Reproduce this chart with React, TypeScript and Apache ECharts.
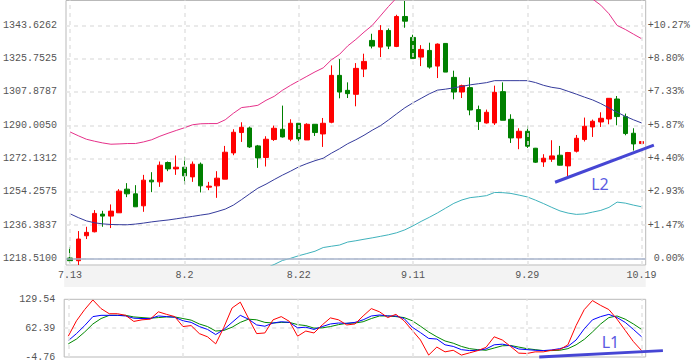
import React, { useEffect, useRef } from 'react';
import * as echarts from 'echarts';

const dates = ['7.13','7.14','7.17','7.18','7.19','7.20','7.21','7.24','7.25','7.26','7.27','7.28','7.31','8.1','8.2','8.3','8.4','8.7','8.8','8.9','8.10','8.11','8.14','8.15','8.16','8.17','8.18','8.21','8.22','8.23','8.24','8.25','8.28','8.29','8.30','8.31','9.1','9.4','9.5','9.6','9.7','9.8','9.11','9.12','9.13','9.14','9.15','9.18','9.19','9.20','9.21','9.22','9.25','9.26','9.27','9.28','9.29','10.2','10.3','10.4','10.5','10.6','10.9','10.10','10.11','10.12','10.13','10.16','10.17','10.18','10.19'];

const openP = [1218.69,1217.24,1230.65,1232.79,1242.28,1241.21,1242.98,1255.69,1253.17,1246.73,1260.51,1259.60,1270.00,1266.57,1267.48,1262.28,1269.09,1256.76,1257.46,1261.05,1275.15,1286.09,1288.56,1278.91,1272.69,1282.34,1287.86,1282.50,1291.08,1282.12,1290.54,1285.34,1291.61,1316.81,1308.77,1306.63,1320.19,1335.58,1331.99,1340.94,1332.36,1348.45,1337.19,1326.63,1330.22,1321.80,1333.97,1315.74,1307.86,1310.22,1298.42,1291.24,1291.24,1308.07,1293.22,1283.20,1286.79,1277.67,1270.33,1271.77,1273.92,1268.18,1276.06,1282.34,1289.09,1291.77,1293.38,1304.11,1294.67,1285.72,1280.19];
const closeP = [1217.24,1228.88,1232.47,1242.66,1241.21,1243.89,1254.62,1253.17,1246.20,1260.51,1259.60,1268.56,1266.57,1267.48,1262.82,1269.09,1257.46,1257.30,1261.59,1275.53,1286.25,1288.93,1278.37,1272.47,1282.50,1288.40,1283.73,1291.08,1282.66,1290.54,1286.09,1291.08,1316.81,1307.86,1307.00,1320.57,1324.32,1332.53,1340.94,1332.53,1348.45,1345.93,1325.93,1330.76,1321.27,1333.60,1318.58,1307.86,1311.29,1298.21,1291.99,1296.98,1307.70,1292.69,1283.20,1286.79,1278.75,1270.17,1272.31,1273.54,1268.56,1275.37,1283.03,1289.47,1292.15,1293.76,1304.48,1294.67,1285.55,1279.98,1281.27];
const lowP = [1216.17,1214.94,1228.88,1232.47,1235.47,1234.78,1242.98,1251.40,1246.20,1243.52,1254.08,1256.92,1265.34,1263.36,1258.21,1259.60,1253.92,1255.15,1251.02,1261.05,1273.92,1281.05,1277.83,1267.11,1267.86,1281.59,1283.41,1281.43,1281.27,1282.12,1284.27,1278.37,1291.08,1304.48,1304.64,1300.19,1315.90,1331.29,1326.63,1330.92,1331.99,1342.39,1325.77,1321.80,1320.41,1315.37,1318.58,1303.95,1304.64,1295.37,1287.48,1290.92,1290.17,1292.69,1280.51,1277.14,1277.83,1269.79,1267.65,1270.33,1268.40,1262.28,1275.37,1281.27,1283.73,1289.09,1290.54,1290.00,1284.64,1276.44,1280.19];
const highP = [1224.59,1233.17,1235.47,1244.43,1244.05,1247.48,1255.69,1258.91,1257.83,1263.36,1264.80,1270.54,1270.54,1273.76,1273.01,1270.54,1270.00,1259.60,1265.34,1278.91,1287.86,1291.61,1289.31,1279.44,1284.11,1289.84,1300.57,1293.22,1291.24,1291.08,1290.54,1293.92,1322.18,1325.55,1313.06,1323.41,1328.45,1339.17,1343.79,1342.02,1349.36,1356.76,1338.64,1333.06,1334.35,1333.97,1333.97,1319.33,1311.83,1315.74,1300.57,1298.42,1311.29,1313.06,1295.90,1288.40,1289.84,1277.83,1274.46,1281.96,1278.91,1275.69,1284.80,1294.13,1293.06,1296.98,1304.64,1305.72,1296.28,1288.40,1281.27];

const bollUpper = [1286.41,1284.38,1282.50,1281.43,1280.51,1279.82,1279.98,1280.19,1280.19,1281.05,1282.23,1284.11,1285.72,1287.22,1288.66,1290.27,1290.81,1290.92,1290.92,1292.95,1296.44,1299.50,1300.03,1300.73,1303.41,1305.55,1308.77,1311.45,1313.87,1316.28,1318.69,1320.84,1325.13,1328.08,1332.63,1336.12,1340.03,1343.62,1348.72,1353.81,1358.5,1362.0,1365.0,1367.0,1369.0,1370.0,1371.0,1371.0,1371.0,1370.0,1369.0,1368.0,1367.0,1366.0,1365.0,1364.0,1363.0,1362.0,1361.5,1361.0,1360.5,1360.0,1359.3,1358.6,1357.8,1354.51,1349.90,1343.62,1341.48,1338.96,1336.49];
const bollMid = [1242.44,1240.41,1238.64,1237.62,1237.03,1236.71,1236.60,1236.55,1236.92,1237.46,1238.10,1238.64,1239.12,1239.76,1240.41,1241.05,1241.75,1242.39,1243.62,1244.96,1247.11,1250.06,1253.17,1256.22,1258.37,1260.84,1263.19,1265.34,1267.65,1269.42,1270.97,1272.31,1274.99,1277.40,1280.09,1282.23,1284.64,1287.32,1289.74,1292.85,1296.17,1299.39,1302.07,1304.48,1306.90,1308.88,1309.42,1310.11,1310.92,1311.72,1312.31,1312.90,1313.97,1313.97,1313.97,1313.97,1313.97,1312.95,1311.45,1310.38,1309.74,1308.24,1306.73,1305.13,1303.62,1301.64,1299.33,1296.98,1294.83,1292.95,1291.24];
const bollLower = [1198.5,1196.4,1194.8,1193.8,1193.6,1193.6,1193.2,1192.9,1193.6,1193.9,1194.0,1193.2,1192.5,1192.3,1192.2,1191.8,1192.7,1193.9,1196.3,1197.0,1197.8,1200.6,1206.3,1211.7,1213.3,1215.21,1217.35,1218.53,1219.92,1221.10,1222.34,1224.32,1225.02,1225.66,1227.27,1227.97,1228.77,1229.52,1230.33,1231.18,1232.26,1233.81,1235.96,1238.37,1240.57,1242.93,1245.50,1248.07,1249.90,1251.13,1251.61,1252.20,1253.92,1253.81,1253.38,1252.47,1251.51,1249.79,1247.91,1245.88,1244.00,1242.82,1242.12,1242.39,1243.36,1244.27,1245.88,1248.72,1248.18,1247.11,1246.20];

const kdjK = [33.29,49.70,68.36,89.25,92.23,92.23,92.23,90.74,85.52,84.77,84.77,90.74,89.25,87.75,79.55,75.82,66.12,59.40,47.47,59.40,75.82,92.23,83.28,69.85,66.86,74.32,77.31,75.82,63.13,64.63,59.40,66.12,72.09,74.32,73.58,75.82,81.79,90.74,92.98,90.74,90.74,84.77,64.63,51.94,38.51,37.02,23.59,19.86,12.40,10.16,10.91,13.89,23.59,25.08,21.35,13.89,12.40,10.91,10.16,11.65,14.64,19.86,34.78,60.89,81.79,89.25,94.47,87.01,75.82,59.40,42.24];
const kdjD = [25.83,37.02,53.43,72.09,84.77,92.23,92.23,92.23,88.50,87.01,85.52,87.01,88.50,88.50,84.77,81.04,72.09,66.12,55.67,57.16,64.63,75.82,83.28,81.79,75.82,74.32,75.82,75.82,70.59,68.36,62.39,63.13,66.12,70.59,73.58,74.32,77.31,84.77,90.74,90.74,89.25,87.01,79.55,66.86,53.43,42.24,32.54,27.32,19.86,14.64,12.40,10.91,16.13,21.35,22.10,18.37,14.64,12.40,10.16,10.16,10.91,14.64,23.59,36.27,53.43,72.09,87.01,90.74,83.28,72.09,59.40];
const kdjJ = [43.73,79.55,105.66,128.04,107.90,95.96,95.96,92.23,78.06,81.79,83.28,100.44,94.47,89.25,66.12,68.36,49.70,42.24,25.83,64.63,109.39,122.82,85.52,49.70,51.20,81.79,89.25,78.06,43.73,55.67,51.20,69.85,86.26,81.79,69.85,72.09,90.74,107.90,100.44,87.01,94.47,79.55,57.16,34.78,-0.29,18.37,7.18,10.91,-0.29,4.94,10.16,17.62,42.24,34.78,19.86,4.19,3.45,7.18,7.18,10.91,12.40,23.59,68.36,105.66,126.55,115.36,105.66,83.28,57.16,31.05,10.16];

const priceTicks = [1218.51, 1236.3837, 1254.2575, 1272.1312, 1290.005, 1307.8787, 1325.7525, 1343.6262];
const priceTickLabels = ['1218.5100', '1236.3837', '1254.2575', '1272.1312', '1290.0050', '1307.8787', '1325.7525', '1343.6262'];
const pctTickLabels = [' 0.00%', '+1.47%', '+2.93%', '+4.40%', '+5.87%', '+7.33%', '+8.80%', '+10.27%'];
const priceRange = [1214.94, 1357.03];
const kdjTicks = [-4.76, 62.39, 129.54];
const kdjTickLabels = ['-4.76', '62.39', '129.54'];
const markedDates = ['7.13', '8.2', '8.22', '9.11', '9.29', '10.19'];

// trend-line annotations: [categoryIndex, value]
const lineL2 = [[59.4, 1259.4], [71.5, 1279.3]];
const textL2 = [64.9, 1258.4];
const lineL1 = [[57.5, -4.76], [72.6, 10.08]];
const textL1 = [66.2, 30.7];

const FONT = 'Liberation Mono';
const LABEL_COLOR = '#555555';
const DASH = { color: '#e3e3e3', type: [4, 4] as any, width: 1.5 };

function nearestIdx(arr: number[], v: number) {
  let best = 0;
  for (let i = 1; i < arr.length; i++) if (Math.abs(arr[i] - v) < Math.abs(arr[best] - v)) best = i;
  return best;
}

export default function App() {
  const ref = useRef<HTMLDivElement>(null);
  useEffect(() => {
    if (!ref.current) return;
    const chart = echarts.init(ref.current, null, { renderer: 'svg' });
    const gridLeft = 64.2;
    const gridWidth = 581.5;
    const vLines = markedDates.map((d) => ({ xAxis: d, lineStyle: { ...DASH } }));
    const option: any = {
      animation: false,
      grid: [
        { left: gridLeft, width: gridWidth, top: 0.5, height: 264.5, show: true, borderColor: '#b9b9b9', borderWidth: 1 },
        { left: gridLeft, width: gridWidth, top: 299.3, height: 60, show: true, borderColor: '#b9b9b9', borderWidth: 1 },
      ],
      xAxis: [
        {
          type: 'category', gridIndex: 0, data: dates, boundaryGap: true,
          axisLine: { show: false }, axisTick: { show: false }, splitLine: { show: false },
          axisLabel: { interval: 13, fontFamily: FONT, fontSize: 10, color: LABEL_COLOR, margin: 5 },
        },
        {
          type: 'category', gridIndex: 1, data: dates, boundaryGap: true,
          axisLine: { show: false }, axisTick: { show: false }, splitLine: { show: false },
          axisLabel: { show: false },
        },
      ],
      yAxis: [
        {
          type: 'value', gridIndex: 0, position: 'left', min: priceRange[0], max: priceRange[1],
          axisLine: { show: false }, axisTick: { show: false, customValues: priceTicks },
          splitLine: { show: true, lineStyle: DASH },
          axisLabel: {
            customValues: priceTicks, fontFamily: FONT, fontSize: 10, color: LABEL_COLOR, margin: 9,
            formatter: (v: number) => priceTickLabels[nearestIdx(priceTicks, v)],
          },
        },
        {
          type: 'value', gridIndex: 0, position: 'right', min: priceRange[0], max: priceRange[1],
          axisLine: { show: false }, axisTick: { show: false, customValues: priceTicks },
          splitLine: { show: false },
          axisLabel: {
            customValues: priceTicks, fontFamily: FONT, fontSize: 10, color: LABEL_COLOR, margin: 2,
            formatter: (v: number) => pctTickLabels[nearestIdx(priceTicks, v)],
          },
        },
        {
          type: 'value', gridIndex: 1, position: 'left', min: kdjTicks[0], max: kdjTicks[2],
          axisLine: { show: false }, axisTick: { show: false, customValues: [kdjTicks[1]] },
          splitLine: { show: true, lineStyle: DASH },
          axisLabel: {
            customValues: kdjTicks, fontFamily: FONT, fontSize: 10, color: LABEL_COLOR, margin: 9,
            formatter: (v: number) => kdjTickLabels[nearestIdx(kdjTicks, v)],
          },
        },
      ],
      series: [
        {
          type: 'candlestick', xAxisIndex: 0, yAxisIndex: 0, barWidth: 5,
          data: dates.map((_, i) => [openP[i], closeP[i], lowP[i], highP[i]]),
          itemStyle: { color: '#ff0000', color0: '#008000', borderColor: '#ff0000', borderColor0: '#008000', borderWidth: 1 },
          markLine: {
            silent: true, symbol: ['none', 'none'], label: { show: false }, animation: false,
            data: [
              ...vLines,
              { yAxis: priceTicks[0], lineStyle: { color: '#a9b4cc', type: 'solid', width: 1.5 } },
            ],
          },
        },
        { type: 'line', xAxisIndex: 0, yAxisIndex: 0, data: bollUpper, symbol: 'none', lineStyle: { color: '#e6318a', width: 1 }, z: 3 },
        { type: 'line', xAxisIndex: 0, yAxisIndex: 0, data: bollMid, symbol: 'none', lineStyle: { color: '#353b9c', width: 1 }, z: 3 },
        { type: 'line', xAxisIndex: 0, yAxisIndex: 0, data: bollLower, symbol: 'none', lineStyle: { color: '#3fb2bc', width: 1 }, z: 3 },
        {
          type: 'line', xAxisIndex: 1, yAxisIndex: 2, data: kdjD, symbol: 'none', lineStyle: { color: '#008800', width: 1 },
          markLine: { silent: true, symbol: ['none', 'none'], label: { show: false }, animation: false, data: vLines },
        },
        { type: 'line', xAxisIndex: 1, yAxisIndex: 2, data: kdjK, symbol: 'none', lineStyle: { color: '#0000ff', width: 1 } },
        { type: 'line', xAxisIndex: 1, yAxisIndex: 2, data: kdjJ, symbol: 'none', lineStyle: { color: '#ff0000', width: 1 } },
      ],
      graphic: [
        { type: 'rect', z: -10, shape: { x: gridLeft, y: 265.5, width: gridWidth, height: 21.5 }, style: { fill: '#f3f3f3' } },
      ],
    };
    chart.setOption(option);

    const toPx = (main: boolean, p: number[]) => {
      const finder = main ? { xAxisIndex: 0, yAxisIndex: 0 } : { xAxisIndex: 1, yAxisIndex: 2 };
      const a = chart.convertToPixel(finder as any, [0, p[1]]) as number[];
      const b = chart.convertToPixel(finder as any, [1, p[1]]) as number[];
      return [a[0] + (b[0] - a[0]) * p[0], a[1]];
    };
    const l2a = toPx(true, lineL2[0]);
    const l2b = toPx(true, lineL2[1]);
    const l1a = toPx(false, lineL1[0]);
    const l1b = toPx(false, lineL1[1]);
    const t2 = toPx(true, textL2);
    const t1 = toPx(false, textL1);
    const lineStyle = { stroke: '#4646d4', lineWidth: 3 };
    const textStyle = (t: string) => ({
      text: t, fill: '#5a5ae2', font: '16px "Noto Sans"',
      textAlign: 'center', textVerticalAlign: 'middle', align: 'center', verticalAlign: 'middle',
    });
    chart.setOption({
      graphic: [
        { type: 'rect', z: -10, shape: { x: gridLeft, y: 265.5, width: gridWidth, height: 21.5 }, style: { fill: '#f3f3f3' } },
        { type: 'line', z: 50, shape: { x1: l2a[0], y1: l2a[1], x2: l2b[0], y2: l2b[1] }, style: lineStyle },
        { type: 'line', z: 50, shape: { x1: l1a[0], y1: l1a[1], x2: l1b[0], y2: l1b[1] }, style: lineStyle },
        { type: 'text', z: 50, x: t2[0], y: t2[1], style: textStyle('L2') },
        { type: 'text', z: 50, x: t1[0], y: t1[1], style: textStyle('L1') },
      ],
    });
    return () => chart.dispose();
  }, []);
  return <div ref={ref} style={{ position: 'fixed', left: 0, top: 0, width: 695, height: 362, background: '#fff' }} />;
}
